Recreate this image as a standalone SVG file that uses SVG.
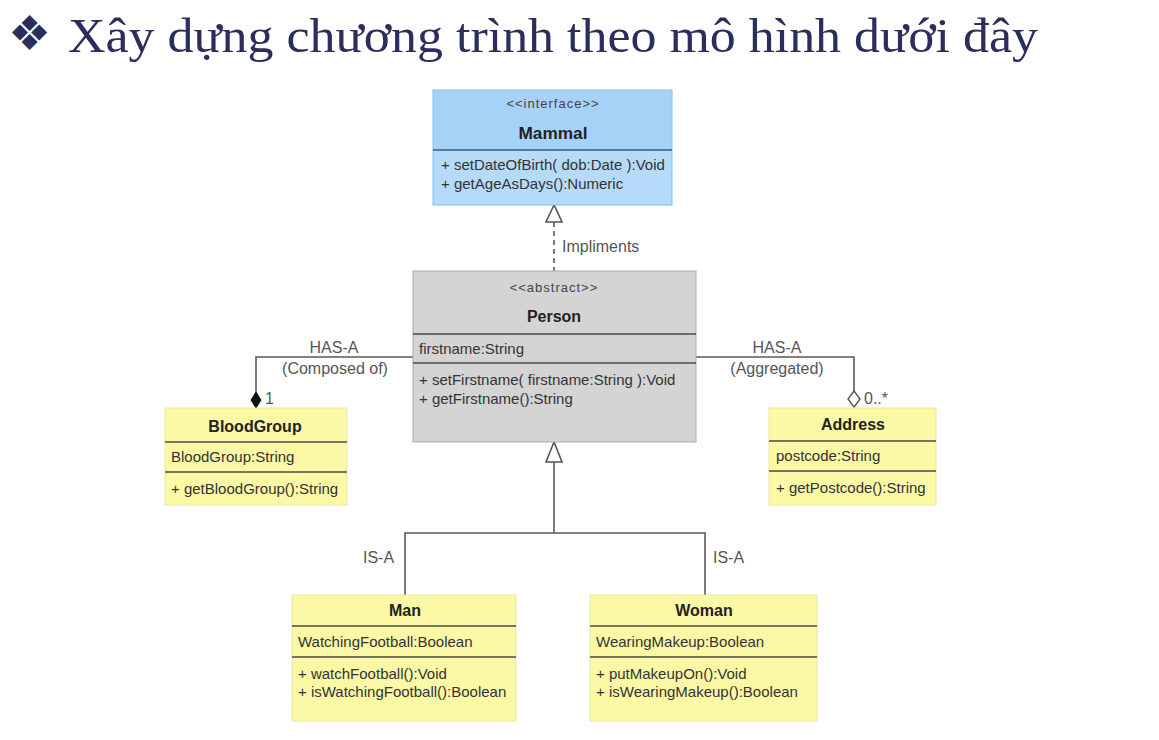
<svg xmlns="http://www.w3.org/2000/svg" width="1159" height="740" viewBox="0 0 1159 740">
  <defs>
    <style>
      .title { font-family: "Liberation Serif", "DejaVu Serif", serif; font-size: 48px; fill: #2b2d5c; }
      .t { font-family: "Liberation Sans", Arial, sans-serif; font-size: 15px; fill: #333; }
      .b { font-family: "Liberation Sans", Arial, sans-serif; font-size: 16px; font-weight: bold; fill: #222; }
      .s { font-family: "Liberation Sans", Arial, sans-serif; font-size: 13px; letter-spacing: 1px; fill: #444; }
      .lbl { font-family: "Liberation Sans", Arial, sans-serif; font-size: 16px; fill: #555; }
      .sep { stroke: #4a4a4a; stroke-width: 1.5; }
      .yel { fill: #fbf8a6; stroke: #ece6a0; stroke-width: 1; }
      .conn { fill: none; stroke: #5a5a5a; stroke-width: 1.6; }
    </style>
  </defs>

  <rect width="1159" height="740" fill="#ffffff"/>

  <!-- heading -->
  <g id="heading">
    <text x="8" y="50" class="title" font-family="DejaVu Sans, sans-serif" font-size="36">❖</text>
    <text x="68" y="52" class="title" textLength="970" lengthAdjust="spacingAndGlyphs">Xây dựng chương trình theo mô hình dưới đây</text>
  </g>

  <!-- connectors -->
  <g id="connectors">
    <!-- realization Person -> Mammal -->
    <line x1="554" y1="222" x2="554" y2="271" class="conn" stroke-dasharray="5,4"/>
    <polygon points="554,205 546,222 562,222" fill="#fff" stroke="#555" stroke-width="1.6"/>
    <text x="562" y="252" class="lbl">Impliments</text>

    <!-- composition Person -> BloodGroup -->
    <polyline points="413,357 256,357 256,393" class="conn"/>
    <polygon points="256,392 261,400 256,408 251,400" fill="#111" stroke="#111"/>
    <text x="265" y="404" class="lbl">1</text>
    <text x="334" y="353" class="lbl" text-anchor="middle">HAS-A</text>
    <text x="335" y="374" class="lbl" text-anchor="middle">(Composed of)</text>

    <!-- aggregation Person -> Address -->
    <polyline points="696,357 854,357 854,391" class="conn"/>
    <polygon points="854,391 860,399 854,407 848,399" fill="#fff" stroke="#555" stroke-width="1.4"/>
    <text x="864" y="404" class="lbl">0..*</text>
    <text x="777" y="353" class="lbl" text-anchor="middle">HAS-A</text>
    <text x="777" y="374" class="lbl" text-anchor="middle">(Aggregated)</text>

    <!-- generalization Man/Woman -> Person -->
    <polyline points="554,462 554,533" class="conn"/>
    <polyline points="405,595 405,533 705,533 705,595" class="conn"/>
    <polygon points="554,442 546,462 562,462" fill="#fff" stroke="#555" stroke-width="1.6"/>
    <text x="363" y="563" class="lbl">IS-A</text>
    <text x="713" y="563" class="lbl">IS-A</text>
  </g>

  <!-- Mammal interface -->
  <g id="mammal">
    <rect x="433" y="90" width="239" height="115" fill="#b6dbfa" stroke="#7fbcee"/>
    <rect x="434" y="91" width="237" height="59" fill="#a7d2f7"/>
    <line x1="433" y1="150" x2="672" y2="150" stroke="#3c5a78" stroke-width="1.5"/>
    <text x="553" y="108" class="s" text-anchor="middle">&lt;&lt;interface&gt;&gt;</text>
    <text x="553" y="139" class="b" text-anchor="middle" fill="#1e2e44" textLength="69" lengthAdjust="spacingAndGlyphs">Mammal</text>
    <text x="441" y="170" class="t" fill="#22364e">+ setDateOfBirth( dob:Date ):Void</text>
    <text x="441" y="189" class="t" fill="#22364e">+ getAgeAsDays():Numeric</text>
  </g>

  <!-- Person abstract class -->
  <g id="person">
    <rect x="413" y="271" width="283" height="171" fill="#d4d4d4" stroke="#aaa"/>
    <line x1="413" y1="334" x2="696" y2="334" class="sep"/>
    <line x1="413" y1="363" x2="696" y2="363" class="sep"/>
    <text x="554" y="292" class="s" text-anchor="middle">&lt;&lt;abstract&gt;&gt;</text>
    <text x="554" y="322" class="b" text-anchor="middle">Person</text>
    <text x="419" y="354" class="t">firstname:String</text>
    <text x="419" y="385" class="t">+ setFirstname( firstname:String ):Void</text>
    <text x="419" y="404" class="t">+ getFirstname():String</text>
  </g>

  <!-- BloodGroup -->
  <g id="bloodgroup">
    <rect x="165" y="408" width="182" height="97" class="yel"/>
    <line x1="165" y1="442" x2="347" y2="442" class="sep"/>
    <line x1="165" y1="472" x2="347" y2="472" class="sep"/>
    <text x="255" y="432" class="b" text-anchor="middle">BloodGroup</text>
    <text x="171" y="462" class="t">BloodGroup:String</text>
    <text x="171" y="494" class="t">+ getBloodGroup():String</text>
  </g>

  <!-- Address -->
  <g id="address">
    <rect x="769" y="408" width="167" height="97" class="yel"/>
    <line x1="769" y1="441" x2="936" y2="441" class="sep"/>
    <line x1="769" y1="471" x2="936" y2="471" class="sep"/>
    <text x="853" y="430" class="b" text-anchor="middle">Address</text>
    <text x="776" y="461" class="t">postcode:String</text>
    <text x="776" y="493" class="t">+ getPostcode():String</text>
  </g>

  <!-- Man -->
  <g id="man">
    <rect x="292" y="595" width="224" height="126" class="yel"/>
    <line x1="292" y1="626" x2="516" y2="626" class="sep"/>
    <line x1="292" y1="657" x2="516" y2="657" class="sep"/>
    <text x="405" y="616" class="b" text-anchor="middle">Man</text>
    <text x="298" y="647" class="t">WatchingFootball:Boolean</text>
    <text x="298" y="679" class="t">+ watchFootball():Void</text>
    <text x="298" y="697" class="t">+ isWatchingFootball():Boolean</text>
  </g>

  <!-- Woman -->
  <g id="woman">
    <rect x="590" y="595" width="227" height="126" class="yel"/>
    <line x1="590" y1="626" x2="817" y2="626" class="sep"/>
    <line x1="590" y1="657" x2="817" y2="657" class="sep"/>
    <text x="704" y="616" class="b" text-anchor="middle">Woman</text>
    <text x="596" y="647" class="t">WearingMakeup:Boolean</text>
    <text x="596" y="679" class="t">+ putMakeupOn():Void</text>
    <text x="596" y="697" class="t">+ isWearingMakeup():Boolean</text>
  </g>
</svg>
